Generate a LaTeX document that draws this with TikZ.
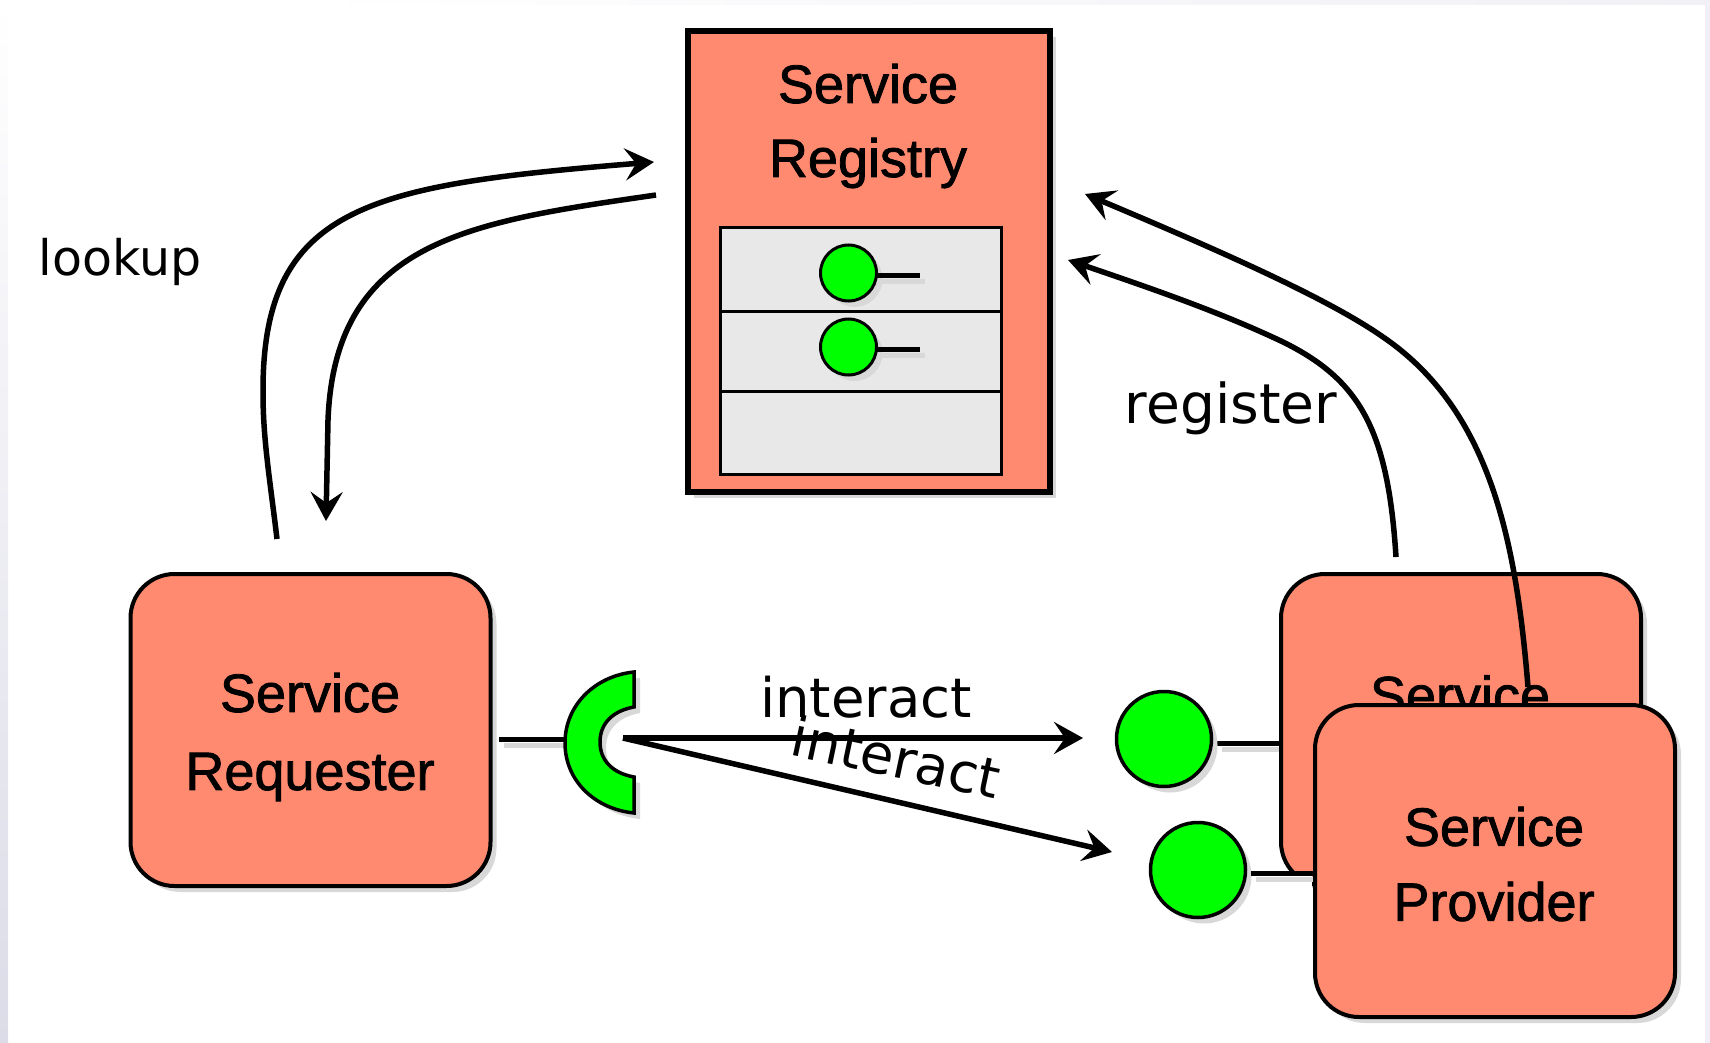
\documentclass[tikz,border=0pt]{standalone}
\usepackage{fontspec}
\setmainfont[FakeBold=1.5]{Liberation Sans}
\newfontfamily\handfont{DejaVu Sans}
\usetikzlibrary{arrows.meta,shadows}
\definecolor{salmon}{HTML}{FF8A6F}
\definecolor{cellgray}{HTML}{E8E8E8}
\definecolor{shadowc}{HTML}{D8D8D8}
\definecolor{edgec}{HTML}{DCDCE8}
\definecolor{edgelight}{HTML}{F0F0F6}
\tikzset{
  softshadow/.style={drop shadow={shadow xshift=6pt,shadow yshift=-6pt,fill=shadowc,opacity=1}},
  serverbox/.style={draw=black,fill=salmon,line width=4pt,rounded corners=44pt,
    minimum width=360pt,minimum height=312pt,inner sep=0pt,outer sep=0pt,softshadow},
  registrybox/.style={draw=black,fill=salmon,line width=5.5pt,minimum width=362pt,
    minimum height=461pt,inner sep=0pt,outer sep=0pt,softshadow},
  cellbox/.style={draw=black,fill=cellgray,line width=3pt,minimum width=281pt,inner sep=0pt,outer sep=0pt},
  bigball/.style={circle,draw=black,fill=green,line width=3.5pt,minimum size=95pt,inner sep=0pt,outer sep=0pt,softshadow},
  smallball/.style={circle,draw=black,fill=green,line width=3pt,minimum size=56pt,inner sep=0pt,outer sep=0pt,softshadow},
  boxtitle/.style={align=center,inner sep=0pt,font=\fontsize{54}{#1}\selectfont},
  handlabel/.style={inner sep=0pt,anchor=base,font=\handfont\fontsize{#1}{#1}\selectfont},
  stubline/.style={line width=5pt,black,preaction={draw=shadowc,line width=5pt,transform canvas={shift={(5pt,-6pt)}}}},
  flowtip/.style={-{Stealth[length=29pt,width=32pt,inset=11pt]}},
  flow/.style={line width=5.5pt,black},
}
\begin{document}
\begin{tikzpicture}[x=1pt,y=-1pt]
\useasboundingbox (0,0) rectangle (1710,1043);
% page edges
\shade[top color=white,bottom color=edgec] (0,0) rectangle (8,1043);
\shade[left color=white,right color=edgelight] (300,0) rectangle (1710,5);
\fill[edgelight] (1705,5) rectangle (1710,1043);

% free ends of connectors
\coordinate (lookOutStart) at (277,539);
\coordinate (lookOutEnd) at (654,162);
\coordinate (lookBackStart) at (656,195);
\coordinate (lookBackEnd) at (326,521);
\coordinate (regAStart) at (1396,557);
\coordinate (regAEnd) at (1068,260);
\coordinate (regBStart) at (1528,687);
\coordinate (regBEnd) at (1085,194);
\coordinate (reqStub) at (499,739);
\coordinate (socketWest) at (565,739);
\coordinate (socketMouth) at (623,738);
\coordinate (ballAStub) at (1217,743);
\coordinate (provAWest) at (1281,743);
\coordinate (ballBStub) at (1251,873);
\coordinate (provBWest) at (1314,873);
\coordinate (regStubA) at (920,275);
\coordinate (regStubB) at (920,349);
\coordinate (regBallAEast) at (877,275);
\coordinate (regBallBEast) at (877,349);
\coordinate (ballAWest) at (1083,738);
\coordinate (ballBWest) at (1112,852);

% registry
\node[registrybox] (registry) at (869,261.5) {};
\node[boxtitle=74] (registryTitle) at (868,126) {Service\\Registry};
\node[cellbox,minimum height=84pt] (cellA) at (861,269) {};
\node[cellbox,minimum height=80pt] (cellB) at (861,351) {};
\node[cellbox,minimum height=83pt] (cellC) at (861,432.5) {};
\node[smallball] (regBallA) at (848.5,273) {};
\node[smallball] (regBallB) at (848.5,347) {};
\draw[stubline] (regBallAEast) -- (regStubA);
\draw[stubline] (regBallBEast) -- (regStubB);

% lookup arrows
\draw[flow,flowtip] (lookOutStart) .. controls (270,480) and (263,440) .. (263,393)
  .. controls (262,205) and (370,185) .. (lookOutEnd);
\draw[flow,flowtip] (lookBackStart) .. controls (470,222) and (335,240) .. (328,420) -- (lookBackEnd);
\node[handlabel=49] (lookup) at (120,275) {lookup};

% requester
\node[serverbox] (requester) at (310.5,730) {};
\node[boxtitle=78] (requesterTitle) at (310,737) {Service\\Requester};
\draw[stubline] (reqStub) -- (socketWest);
\path[draw=black,fill=green,line width=3.5pt,
      preaction={fill=shadowc,draw=none,transform canvas={shift={(6pt,-6pt)}}}]
  (634,672) .. controls (595,676) and (565,705) .. (565,743)
  .. controls (565,781) and (595,809) .. (634,813) -- (634,777)
  .. controls (612,773) and (600,760) .. (600,742)
  .. controls (600,724) and (612,711) .. (634,707) -- cycle;

% back provider
\draw[stubline] (ballAStub) -- (provAWest);
\node[serverbox] (providerBack) at (1461,730) {};
\node[boxtitle=75] (providerBackTitle) at (1460,732.5) {Service\\Provider};
\draw[flow,flowtip] (regAStart) .. controls (1388,430) and (1360,380) .. (1283,342)
  .. controls (1220,312) and (1150,288) .. (regAEnd);
\node[handlabel=55] (register) at (1231,423) {register};
\draw[flow,flowtip] (regBStart) .. controls (1516,540) and (1490,410) .. (1383,337)
  .. controls (1330,300) and (1230,255) .. (regBEnd);

% balls
\node[bigball] (ballA) at (1164,739) {};
\node[bigball] (ballB) at (1198,870) {};
% the lower left corner of the back box is cut away below the stub
\fill[white] (1278,875) rectangle (1312,896);
\draw[stubline] (ballBStub) -- (provBWest);

% front provider
\node[serverbox] (providerFront) at (1495,861) {};
\node[boxtitle=75] (providerFrontTitle) at (1494,864) {Service\\Provider};

% interact
\draw[flow,flowtip] (socketMouth) -- (ballAWest);
\draw[flow,flowtip] (socketMouth) -- (ballBWest);
\node[handlabel=54.5] (interactA) at (866,717) {interact};
\node[handlabel=54.5,rotate=-12] (interactB) at (892,777) {interact};
\end{tikzpicture}
\end{document}
